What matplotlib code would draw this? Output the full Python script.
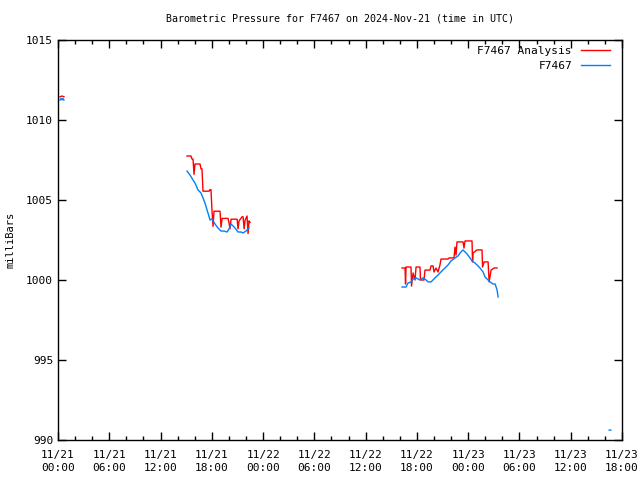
import numpy as np
import matplotlib
matplotlib.use('Agg')
import matplotlib.pyplot as plt
from matplotlib.ticker import MultipleLocator

params = {
   'font.family': 'DejaVu Sans Mono',
   'font.size': 7,
   'axes.linewidth': 1.0,
   'figure.figsize': [6.4, 4.8],
   'figure.dpi': 100,
   }
plt.rcParams.update(params)

# hours since 2024-11-21 00:00 UTC, pressure in mb
nan = np.nan
ana_t = [0.23, 0.47, 0.70, nan,
         15.10, 15.56, 15.68, 15.80, 15.92, 16.03, 16.62, 16.73, 16.85, 16.97,
         17.67, 17.79, 17.90, 18.02, 18.14, 18.26, 18.84, 18.96, 19.08, 19.20,
         19.90, 20.02, 20.13, 20.25, 20.96, 21.07, 21.19, 21.54, 21.66, 21.78,
         21.90, 22.12, 22.24, 22.36, 22.47, nan,
         40.26, 40.61, 40.67, 40.73, 41.31, 41.37, 41.55, 41.78, 41.90, 42.36,
         42.42, 42.83, 42.95, 43.53, 43.65, 43.89, 44.00, 44.24, 44.47, 44.70,
         44.82, 45.64, 45.76, 46.34, 46.46, 46.58, 46.69, 47.40, 47.51, 47.63,
         48.45, 48.51, 48.57, 49.03, 49.62, 49.68, 49.86, 50.33, 50.45, 50.68,
         51.03, 51.38]
ana_p = [1011.45, 1011.50, 1011.45, nan,
         1007.75, 1007.75, 1007.56, 1007.56, 1006.60, 1007.25, 1007.25, 1006.95, 1006.95, 1005.55,
         1005.55, 1005.65, 1005.65, 1004.35, 1003.35, 1004.30, 1004.30, 1004.30, 1003.30, 1003.85,
         1003.85, 1003.55, 1003.20, 1003.80, 1003.80, 1003.20, 1003.70, 1003.95, 1003.95, 1003.20,
         1003.75, 1004.00, 1002.90, 1003.70, 1003.60, nan,
         1000.75, 1000.75, 999.75, 1000.81, 1000.81, 999.62, 1000.44, 1000.00, 1000.81, 1000.81,
         1000.00, 1000.00, 1000.62, 1000.62, 1000.88, 1000.88, 1000.50, 1000.75, 1000.50, 1000.94,
         1001.31, 1001.31, 1001.38, 1001.38, 1002.06, 1001.56, 1002.38, 1002.38, 1002.00, 1002.44,
         1002.44, 1001.13, 1001.69, 1001.88, 1001.88, 1000.81, 1001.13, 1001.13, 999.88, 1000.62,
         1000.75, 1000.75]

obs_t = [0.23, 0.35, 0.47, 0.58, 0.70, nan,
         15.10, 15.45, 15.80, 16.03, 16.38, 16.73, 16.97, 17.20, 17.55, 17.79,
         18.02, 18.37, 18.72, 19.08, 19.43, 19.78, 20.01, 20.25, 20.48, 20.71,
         21.07, 21.42, 21.65, 22.00, 22.35, nan,
         40.26, 40.73, 40.96, 41.31, 41.55, 41.90, 42.36, 42.71, 43.07, 43.30,
         43.65, 44.12, 44.47, 44.70, 45.05, 45.40, 45.64, 45.99, 46.46, 46.81,
         47.05, 47.40, 47.63, 47.86, 48.21, 48.45, 48.80, 49.15, 49.38, 49.74,
         49.97, 50.33, 50.56, 50.91, 51.15, 51.38, 51.50, nan,
         64.50, 64.70]
obs_p = [1011.25, 1011.35, 1011.25, 1011.35, 1011.25, nan,
         1006.81, 1006.56, 1006.25, 1006.06, 1005.63, 1005.44, 1005.13, 1004.81, 1004.19, 1003.75,
         1003.81, 1003.50, 1003.25, 1003.06, 1003.06, 1003.00, 1003.19, 1003.50, 1003.38, 1003.25,
         1003.00, 1003.00, 1002.94, 1003.06, 1003.25, nan,
         999.56, 999.56, 999.81, 999.88, 1000.06, 1000.13, 1000.00, 1000.13, 1000.00, 999.88,
         999.88, 1000.13, 1000.31, 1000.44, 1000.63, 1000.81, 1000.94, 1001.19, 1001.38, 1001.50,
         1001.69, 1001.88, 1001.75, 1001.63, 1001.38, 1001.19, 1001.06, 1000.88, 1000.75, 1000.50,
         1000.19, 1000.00, 999.88, 999.75, 999.75, 999.38, 998.94, nan,
         990.62, 990.62]

xtick_pos = [0, 6, 12, 18, 24, 30, 36, 42, 48, 54, 60, 66]
xtick_lab = ['11/21\n00:00', '11/21\n06:00', '11/21\n12:00', '11/21\n18:00',
             '11/22\n00:00', '11/22\n06:00', '11/22\n12:00', '11/22\n18:00',
             '11/23\n00:00', '11/23\n06:00', '11/23\n12:00', '11/23\n18:00']

fig = plt.figure()
ax = fig.add_axes([58/640, 40/480, 564/640, 400/480])

ax.plot(ana_t, ana_p, color='#ff0000', lw=1.0, label='F7467 Analysis')
ax.plot(obs_t, obs_p, color='#0080ff', lw=1.0, label='F7467')

ax.set_xlim(0, 66)
ax.set_ylim(990, 1015)
ax.set_xticks(xtick_pos)
ax.set_xticklabels(xtick_lab, linespacing=1.35)
ax.xaxis.set_minor_locator(MultipleLocator(2))
ax.set_yticks(np.arange(990, 1016, 5))
ax.tick_params(which='major', direction='in', length=6, width=1,
               top=True, right=True, labelsize=8)
ax.tick_params(axis='x', which='major', pad=7)
ax.tick_params(which='minor', direction='in', length=3, width=1,
               top=True, right=False)

ax.set_ylabel('milliBars', fontsize=7.5, labelpad=8)
ax.set_title('Barometric Pressure for F7467 on 2024-Nov-21 (time in UTC)',
             fontsize=7.2, pad=13)

leg = ax.legend(loc='upper right', frameon=False, markerfirst=False,
                handlelength=2.6, handletextpad=0.8, fontsize=8,
                borderaxespad=0.7, labelspacing=0.45,
                bbox_to_anchor=(1.0, 1.015))

plt.savefig('out.png', dpi=100)
